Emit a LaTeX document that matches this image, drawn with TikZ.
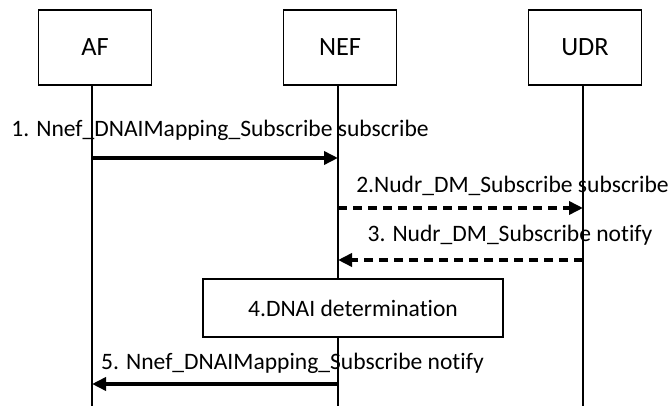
\documentclass[tikz,border=0pt]{standalone}
\usepackage{fontspec}
\setmainfont{Carlito}[Ligatures=NoCommon]
\usetikzlibrary{arrows.meta}
\tikzset{
	ent/.style={draw,line width=1pt,minimum width=2.26cm,minimum height=1.5cm,inner sep=0pt,font=\fontsize{15}{18}\selectfont},
	stepbox/.style={draw,fill=white,line width=1pt,minimum width=6cm,minimum height=1.16cm,inner sep=0pt,font=\fontsize{13.4}{16}\selectfont},
	msg/.style={anchor=base,inner sep=0pt,font=\fontsize{13.4}{16}\selectfont},
	life/.style={line width=1.2pt},
	call/.style={line width=2pt,-{Triangle[length=0.28cm,width=0.26cm]}},
	reply/.style={call,dash pattern=on 0.18cm off 0.12cm}
}
\begin{document}
\begin{tikzpicture}
	\useasboundingbox (0,0) rectangle (13.4,8.12);
	% entities
	\node[ent] (af) at (1.90,7.17) {AF};
	\node[ent] (nef) at (6.80,7.17) {NEF};
	\node[ent] (udr) at (11.70,7.17) {UDR};
	% lifelines
	\draw[life] (1.84,6.42)coordinate (afTop) -- (1.84,0)coordinate (afBot);
	\draw[life] (6.76,6.42)coordinate (nefTop) -- (6.76,0)coordinate (nefBot);
	\draw[life] (11.66,6.42)coordinate (udrTop) -- (11.66,0)coordinate (udrBot);
	% 1
	\node[msg] (m1) at (4.40,5.38) {1. Nnef\_DNAIMapping\_Subscribe subscribe};
	\coordinate (af1) at (1.84,4.96);
	\coordinate (nef1) at (6.76,4.96);
	\draw[call] (af1) -- (nef1);
	% 2
	\node[msg] (m2) at (10.25,4.26) {2.Nudr\_DM\_Subscribe subscribe};
	\coordinate (nef2) at (6.76,3.96);
	\coordinate (udr2) at (11.66,3.96);
	\draw[reply] (nef2) -- (udr2);
	% 3
	\node[msg] (m3) at (10.20,3.28) {3. Nudr\_DM\_Subscribe notify};
	\coordinate (udr3) at (11.66,2.92);
	\coordinate (nef3) at (6.76,2.92);
	\draw[reply] (udr3) -- (nef3);
	% 4
	\node[stepbox] (det) at (7.06,1.96) {4.DNAI determination};
	% 5
	\node[msg] (m5) at (5.85,0.72) {5. Nnef\_DNAIMapping\_Subscribe notify};
	\coordinate (nef5) at (6.76,0.44);
	\coordinate (af5) at (1.84,0.44);
	\draw[call] (nef5) -- (af5);
\end{tikzpicture}
\end{document}
